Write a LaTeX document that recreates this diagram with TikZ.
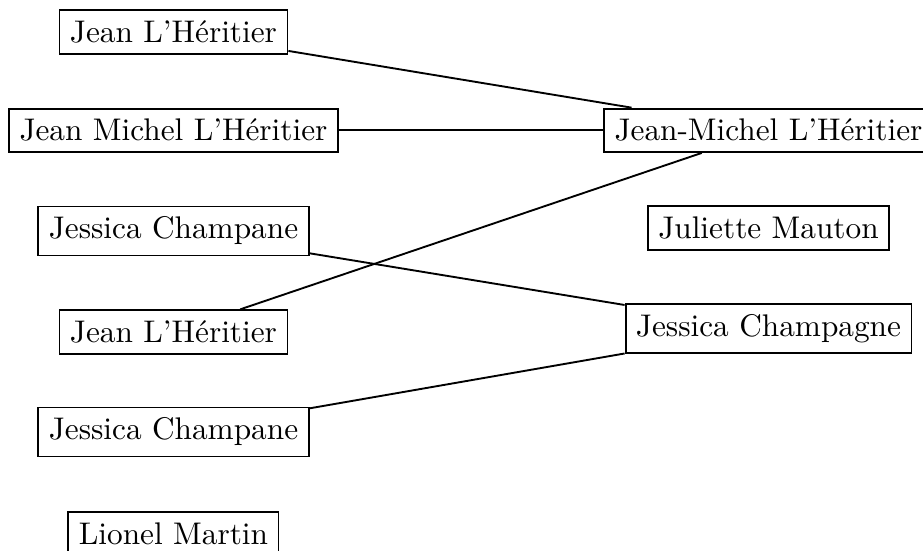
\documentclass[tikz,border=0pt]{standalone}
\usepackage{tikz}
\usetikzlibrary{positioning}

\begin{document}
\begin{tikzpicture}[
  namebox/.style={draw, semithick, inner sep=0.3333em},
  link/.style={semithick},
]
  \useasboundingbox (0,0) rectangle (10.365,-6.187);

  \foreach \n/\y/\txt in {
    l1/-0.359/Jean L'Héritier,
    l2/-1.463/Jean Michel L'Héritier,
    l3/-2.594/Jessica Champane,
    l4/-3.728/Jean L'Héritier,
    l5/-4.851/Jessica Champane,
    l6/-5.990/Lionel Martin%
  } {
    \node[namebox] (\n) at (1.948,\y) {\txt};
  }

  \foreach \n/\y/\txt in {
    r1/-1.463/Jean-Michel L'Héritier,
    r2/-2.560/Juliette Mauton,
    r3/-3.689/Jessica Champagne%
  } {
    \node[namebox] (\n) at (8.630,\y) {\txt};
  }

  \draw[link] (l1) -- (r1);
  \draw[link] (l2) -- (r1);
  \draw[link] (l4) -- (r1);
  \draw[link] (l3) -- (r3);
  \draw[link] (l5) -- (r3);
\end{tikzpicture}
\end{document}
